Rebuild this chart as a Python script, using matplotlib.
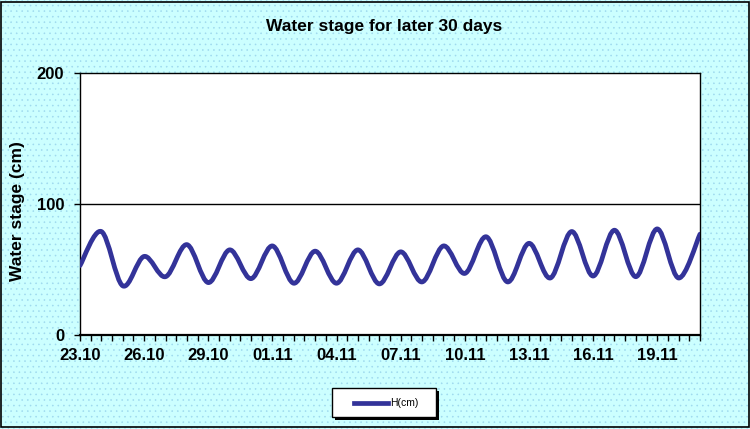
"""
Water stage chart (Excel style) for the later 30 days.
"""

import matplotlib

matplotlib.use("Agg")

import matplotlib.pyplot as plt
import numpy as np
from matplotlib.lines import Line2D
from matplotlib.patches import PathPatch, Rectangle
from matplotlib.path import Path

# daily water stage, cm (day 0 = 23.10)
days = list(range(30))
stage_cm = [
    53, 79, 37.5, 60, 44.5, 69, 40, 65, 43, 68,
    39.5, 64, 39.5, 65, 39, 63.5, 40.5, 68, 47, 75,
    40.5, 70, 43.5, 79, 45, 80, 44.5, 81, 43.5, 77,
]

tick_days = [0, 3, 6, 9, 12, 15, 18, 21, 24, 27]
tick_labels = [
    "23.10", "26.10", "29.10", "01.11", "04.11",
    "07.11", "10.11", "13.11", "16.11", "19.11",
]

LINE_COLOR = "#333399"
BG_COLOR = "#CCFFFF"
W, H = 750, 429


def smooth_path(x, y) -> Path:
    """
    Excel-like smoothed line: Catmull-Rom segments as cubic Bezier curves.
    """

    pts = np.column_stack([x, y]).astype(float)
    n = len(pts)

    verts = [pts[0]]
    codes = [Path.MOVETO]

    for i in range(n - 1):
        p_prev = pts[i - 1] if i > 0 else pts[i]
        p0 = pts[i]
        p1 = pts[i + 1]
        p_next = pts[i + 2] if i + 2 < n else pts[i + 1]

        c1 = p0 + (p1 - p_prev) / 6.0
        c2 = p1 - (p_next - p0) / 6.0

        verts += [c1, c2, p1]
        codes += [Path.CURVE4, Path.CURVE4, Path.CURVE4]

    return Path(verts, codes)


def px_box(x0, y0, x1, y1):
    """
    pixel box (top-left origin) -> figure fraction (x, y, w, h)
    """

    return x0 / W, 1 - y1 / H, (x1 - x0) / W, (y1 - y0) / H


plt.rcParams["font.family"] = ["Liberation Sans", "DejaVu Sans"]
plt.rcParams["hatch.linewidth"] = 0.4

fig = plt.figure(figsize=(W / 100, H / 100), dpi=100)

# cyan dotted background
fig.patch.set_facecolor(BG_COLOR)
fig.patch.set_edgecolor("#9ED9EE")
fig.patch.set_hatch("...")
fig.patch.set_linewidth(0)

fig.add_artist(
    Rectangle(
        (0.0015, 0.004),
        0.9965,
        0.9925,
        transform=fig.transFigure,
        fill=False,
        edgecolor="black",
        linewidth=1.2,
        zorder=20,
    )
)

ax = fig.add_axes(px_box(80, 73, 700, 335))
ax.set_facecolor("white")

patch = PathPatch(
    smooth_path(days, stage_cm),
    facecolor="none",
    edgecolor=LINE_COLOR,
    linewidth=3.4,
    capstyle="round",
    joinstyle="round",
    zorder=3,
)
ax.add_patch(patch)

ax.set_xlim(0, 29)
ax.set_ylim(0, 200)

ax.axhline(100, color="black", linewidth=1.0, zorder=2)

for side in ["left", "bottom", "right", "top"]:
    ax.spines[side].set_color("black")
    ax.spines[side].set_linewidth(1.0)
ax.spines["bottom"].set_linewidth(1.6)

ax.set_yticks([0, 100, 200])
ax.set_xticks(tick_days)
ax.set_xticklabels(tick_labels)
ax.set_xticks(np.arange(0, 29.01, 0.5), minor=True)

ax.tick_params(
    axis="y", which="major", direction="out", length=4.3, width=1,
    pad=7, labelsize=12,
)
ax.tick_params(
    axis="x", which="both", direction="out", length=4, width=1,
    pad=5, labelsize=12,
)

for lbl in ax.get_xticklabels() + ax.get_yticklabels():
    lbl.set_fontweight("bold")

fig.text(
    384.5 / W,
    1 - 27 / H,
    "Water stage for later 30 days",
    ha="center",
    va="center",
    fontsize=12.5,
    fontweight="bold",
)

fig.text(
    18 / W,
    1 - 211 / H,
    "Water stage (cm)",
    rotation=90,
    ha="center",
    va="center",
    fontsize=12.5,
    fontweight="bold",
)

# legend box drawn Excel-style: white frame with black drop shadow
lx, ly, lw, lh = px_box(332, 388, 436, 417)
fig.add_artist(
    Rectangle(
        (lx + 3 / W, ly - 3 / H), lw, lh,
        transform=fig.transFigure, facecolor="black", edgecolor="none",
        zorder=10,
    )
)
fig.add_artist(
    Rectangle(
        (lx, ly), lw, lh,
        transform=fig.transFigure, facecolor="white", edgecolor="black",
        linewidth=1.0, zorder=11,
    )
)
fig.add_artist(
    Line2D(
        [354 / W, 388 / W], [1 - 402.5 / H, 1 - 402.5 / H],
        transform=fig.transFigure, color=LINE_COLOR, linewidth=3.4,
        zorder=12,
    )
)
fig.text(
    390 / W,
    1 - 402.5 / H,
    "H(cm)",
    ha="left",
    va="center",
    fontsize=7.5,
    zorder=12,
)

fig.savefig("out.png", dpi=100, facecolor=fig.get_facecolor())
